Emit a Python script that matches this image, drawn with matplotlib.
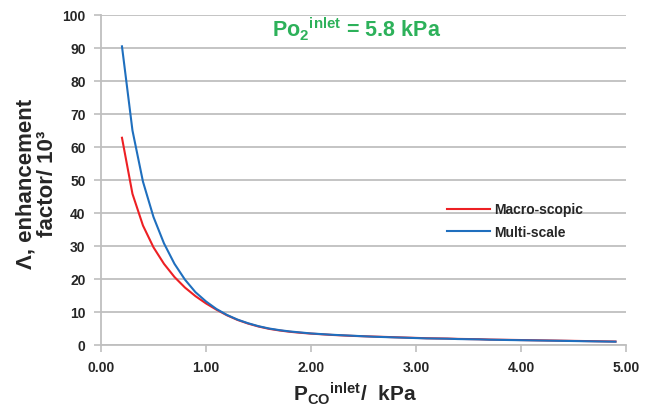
import matplotlib
matplotlib.use("Agg")
import matplotlib.pyplot as plt

plt.rcParams['font.family'] = ['Liberation Sans', 'DejaVu Sans']
plt.rcParams['font.weight'] = 'bold'
plt.rcParams['axes.labelweight'] = 'bold'
plt.rcParams['mathtext.fontset'] = 'custom'
plt.rcParams['mathtext.rm'] = 'Liberation Sans:bold'
plt.rcParams['mathtext.it'] = 'Liberation Sans:bold'
plt.rcParams['mathtext.bf'] = 'Liberation Sans:bold'

# P_CO inlet (kPa)
p_co = [0.2, 0.3, 0.4, 0.5, 0.6, 0.7, 0.8, 0.9, 1.0, 1.1, 1.2, 1.3, 1.4, 1.5,
        1.6, 1.7, 1.8, 1.9, 2.0, 2.1, 2.2, 2.3, 2.4, 2.5, 2.6, 2.7, 2.8, 2.9,
        3.0, 3.1, 3.2, 3.3, 3.4, 3.5, 3.6, 3.7, 3.8, 3.9, 4.0, 4.1, 4.2, 4.3,
        4.4, 4.5, 4.6, 4.7, 4.8, 4.9]

# enhancement factor / 10^3
macro = [62.8, 45.8, 36.2, 29.6, 24.6, 20.6, 17.4, 14.8, 12.6, 10.7, 9.0, 7.6,
         6.5, 5.6, 4.9, 4.4, 4.0, 3.7, 3.45, 3.25, 3.05, 2.9, 2.75, 2.65, 2.55,
         2.45, 2.35, 2.25, 2.15, 2.05, 2.0, 1.95, 1.85, 1.8, 1.75, 1.65, 1.6,
         1.55, 1.5, 1.45, 1.4, 1.35, 1.3, 1.25, 1.2, 1.15, 1.1, 1.05]
multi = [90.5, 65.0, 49.5, 38.8, 30.8, 24.6, 19.8, 16.0, 13.2, 10.9, 9.1, 7.7,
         6.6, 5.7, 5.0, 4.5, 4.1, 3.8, 3.5, 3.3, 3.1, 2.95, 2.8, 2.65, 2.5,
         2.4, 2.3, 2.2, 2.1, 2.0, 1.95, 1.9, 1.8, 1.75, 1.7, 1.6, 1.55, 1.5,
         1.45, 1.4, 1.35, 1.3, 1.25, 1.2, 1.15, 1.1, 1.05, 1.0]

grid_col = '#BFBFBF'
txt_col = '#262626'

fig = plt.figure(figsize=(6.7, 4.06), dpi=100)
ax = fig.add_axes([0.1507, 0.1478, 0.7836, 0.8128])

ax.plot(p_co, macro, color='#ED2024', lw=1.5, label='Macro-scopic')
ax.plot(p_co, multi, color='#1F6FBE', lw=1.5, label='Multi-scale')

ax.set_xlim(0, 5)
ax.set_ylim(0, 100)
ax.set_xticks([0, 1, 2, 3, 4, 5])
ax.set_xticklabels(['%.2f' % v for v in [0, 1, 2, 3, 4, 5]])
ax.set_yticks(range(0, 101, 10))
ax.yaxis.grid(True, color=grid_col, lw=1.3)
ax.set_axisbelow(True)

for s in ['top', 'right']:
    ax.spines[s].set_visible(False)
for s in ['left', 'bottom']:
    ax.spines[s].set_color(grid_col)
    ax.spines[s].set_linewidth(1.3)
ax.tick_params(axis='both', colors=grid_col, length=5, width=1.2,
               labelcolor=txt_col, labelsize=10)
ax.tick_params(axis='y', pad=6)
ax.tick_params(axis='x', pad=6)

ax.set_ylabel('Λ, enhancement\nfactor/ 10³', fontsize=16, color=txt_col,
              linespacing=1.05, fontweight='bold', multialignment='center')
ax.yaxis.set_label_coords(-0.082, 0.491)
ax.set_xlabel('P$_{CO}$$^{inlet}$/  kPa', fontsize=15, color=txt_col,
              fontweight='bold')
ax.xaxis.set_label_coords(0.484, -0.106)

ax.text(0.486, 0.958, 'Po$_2$$^{inlet}$ = 5.8 kPa', transform=ax.transAxes,
        ha='center', va='center', fontsize=15.5, color='#2DB15A')

leg = ax.legend(loc='upper left', bbox_to_anchor=(0.636, 0.47), frameon=False,
                fontsize=10, handlelength=3.1, handletextpad=0.25,
                labelspacing=0.6)
for t in leg.get_texts():
    t.set_color(txt_col)

fig.savefig('out.png', dpi=100)
